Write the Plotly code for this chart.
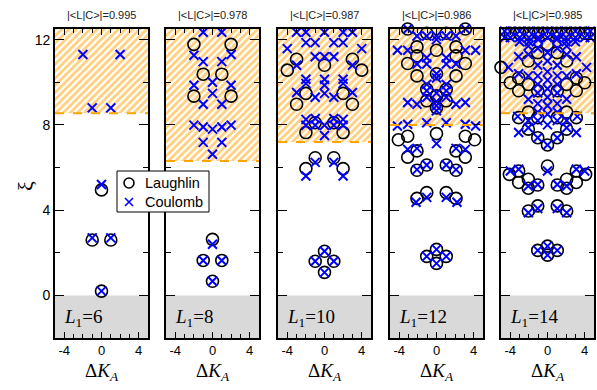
import plotly.graph_objects as go

W, H = 597, 390

# ---------------- data ----------------
L1_values = [6, 8, 10, 12, 14]
overlaps = ["0.995", "0.978", "0.987", "0.986", "0.985"]
thresholds = [8.55, 6.3, 7.2, 8.0, 8.55]

# panel L1=6
laughlin_x_6 = [0, -1, 1, 0]
laughlin_y_6 = [0.2, 2.6, 2.6, 4.95]
coulomb_x_6 = [0, -1, 1, 0, -1, 1, -2, 2]
coulomb_y_6 = [0.2, 2.7, 2.7, 5.2, 8.8, 8.8, 11.3, 11.3]

# panel L1=8
laughlin_x_8 = [0, -1, 1, 0, -2, 2, -1, 1, -2, 2]
laughlin_y_8 = [0.66, 1.64, 1.64, 2.63, 9.35, 9.35, 10.38, 10.38, 11.78, 11.78]
coulomb_x_8 = [0, -1, 1, 0, 0, -1, 1, -2, -1, 0, 1, 2, -1, 1, 0, -2, 2, 0,
               -1, 1, -2, 2, -1, 1]
coulomb_y_8 = [0.66, 1.64, 1.64, 2.4, 6.62, 7.18, 7.18, 7.99, 7.9, 7.8, 7.9, 7.99,
               8.97, 8.97, 9.48, 9.86, 9.86, 10.0, 10.97, 10.97, 11.27, 11.3,
               12.35, 12.35]

# panel L1=10
laughlin_x_10 = [0, -1, 1, 0, -2, -1, 1, 2, -2, -1, 1, 2, -3, -2, 2, 3,
                 -4, -3, 0, 3, 4, 0]
laughlin_y_10 = [1.08, 1.6, 1.6, 2.07, 5.95, 6.46, 6.46, 5.95, 7.64, 8.1, 8.1, 7.64,
                 8.97, 9.48, 9.48, 8.97, 10.57, 11.08, 10.8, 11.08, 10.57, 12.53]
coulomb_x_10 = [0, -1, 1, 0, -2, -1, 1, 2, 0, -2, -1, 0, 1, 2, -2, -1, 1, 2,
                -1, 1, -3, 3, 0, 0, -2, 0, 2, -2, 2, -3, 3, -1, 0, 1, -4, 4,
                -2, -1, 1, 2, -3, -2, 0, 2, 3]
coulomb_y_10 = [1.08, 1.6, 1.6, 2.07, 5.6, 6.24, 6.24, 5.6, 7.5, 7.98, 7.98, 7.98,
                7.98, 7.98, 8.26, 8.3, 8.3, 8.26, 9.3, 9.3, 9.52, 9.52, 9.48, 9.86,
                10.14, 10.14, 10.14, 9.95, 9.95, 10.8, 10.8, 11.2, 11.2, 11.2,
                11.58, 11.58, 11.86, 11.86, 11.86, 11.86, 12.35, 12.35, 12.35,
                12.35, 12.35]

# panel L1=12
laughlin_x_12 = [0, -1.05, 1.05, 0, -2.1, -1.05, 1.05, 2.1, -2.1, -1.05, 1.05, 2.1,
                 -3.1, -2.1, 2.1, 3.1, -4.1, -3.1, 0, 3.1, 4.1,
                 0, -1.05, 1.05, -1.05, 1.05, 0, -2.1, 2.1, 0, -3.1, 3.1,
                 -2.1, 2.1, -2.1, 2.1, 0, -3.1, 3.1, -1.05, 1.05]
laughlin_y_12 = [1.5, 1.83, 1.83, 2.16, 4.55, 4.82, 4.82, 4.55, 5.87, 6.12, 6.12, 5.87,
                 6.49, 6.78, 6.78, 6.49, 7.3, 7.47, 7.59, 7.47, 7.3,
                 8.8, 9.13, 9.13, 9.67, 9.67, 9.36, 10.3, 10.3, 10.4, 10.88, 10.88,
                 11.24, 11.24, 11.66, 11.66, 11.5, 12.5, 12.5, 12.3, 12.3]
coulomb_x_12 = [0, -1.05, 1.05, 0, -2.2, -1.05, 1.05, 2.2, -2.1, -1.05, 1.05, 2.1,
                -3.1, -2.1, 2.1, 3.1, 0, -4.2, -3.1, 3.1, 4.2, -1.05, 1.05,
                -3.1, 3.1, -2.1, 2.1, 0, 0, 0, -1.05, 1.05, -1.05, 1.05, 0,
                -1.05, 1.05, 0, 0, -1.05, 1.05, -2.1, 2.1, -1.05, 1.05,
                -4.2, -3.1, 3.1, 4.2, -2.1, -1.05, 0, 1.05, 2.1, 0, -3.1, 3.1]
coulomb_y_12 = [1.5, 1.83, 1.83, 2.16, 4.37, 4.6, 4.6, 4.37, 5.9, 6.12, 6.12, 5.9,
                6.85, 6.9, 6.9, 6.85, 7.12, 7.95, 8.03, 8.03, 7.95, 8.1, 8.1,
                9.05, 9.05, 8.97, 8.97, 8.66, 8.9, 9.1, 9.3, 9.3, 9.6, 9.6, 9.5,
                9.9, 9.9, 10.2, 10.4, 10.86, 10.86, 10.86, 10.86, 11.15, 11.15,
                11.5, 11.5, 11.5, 11.5, 12.17, 12.17, 12.17, 12.17, 12.17, 12.0,
                12.5, 12.5]

# panel L1=14
laughlin_x_14 = [0, -1.05, 1.05, 0, -2.06, -1.05, 1.05, 2.06, -2.06, -1.05, 1.05, 2.06,
                 -3.1, -2.06, 2.06, 3.1, -4.1, -3.1, 3.1, 4.1, 0,
                 0, -1.05, 1.05, -2.06, 2.06,
                 -3.1, 3.1, -2.06, 2.06, -1.05, 1.05,
                 -1.05, 1.05, -2.06, 2.06, -3.1, 3.1, -3.1, 3.1, -4.0, 4.0, -5.0,
                 -2.06, 2.06, -1.05, 1.05, 0,
                 -4, -3, -2, -1, 0, 1, 2, 3, 4]
laughlin_y_14 = [1.89, 2.11, 2.11, 2.31, 3.96, 4.2, 4.2, 3.96, 5.03, 5.18, 5.18, 5.03,
                 5.3, 5.45, 5.45, 5.3, 5.68, 5.84, 5.84, 5.68, 6.07,
                 7.06, 7.4, 7.4, 7.8, 7.8,
                 8.34, 8.34, 8.6, 8.6, 8.34, 8.34,
                 9.6, 9.6, 9.9, 9.9, 9.6, 9.6, 10.2, 10.2, 9.98, 9.98, 10.7,
                 11.0, 11.0, 11.39, 11.39, 11.78,
                 12.3, 12.3, 12.3, 12.3, 12.3, 12.3, 12.3, 12.3, 12.3]
coulomb_x_14 = [0, -1.05, 1.05, 0, -2.06, -1.05, 1.05, 2.06, -2.06, -1.05, 1.05, 2.06,
                -4.0, -3.1, 3.1, 4.0, 0, 0, -1.05, 1.05, -2.06, 2.06, -3.1, 3.1,
                -3.2, 3.2, -2.06, 2.06, -1.05, 1.05, 0, -1.05, 1.05, 0, 0,
                -1.05, 1.05, -2.06, 2.06, 0, -1.05, 1.05, 0, -1.05, 1.05, 0,
                -1.05, 1.05, -2.06, 2.06, -3.1, 3.1, -4.2, 4.2, 0, -1.05, 1.05,
                0, -2.06, 2.06, -3.1, 3.1, -1.05, 1.05, 0, -2.06, 2.06,
                -4.6, -4, -3, -2, -1, 0, 1, 2, 3, 4, 4.6,
                -4.6, -4, -3, -2, -1, 0, 1, 2, 3, 4, 4.6,
                -3, -2, 2, 3, -1, 1]
coulomb_y_14 = [1.89, 2.11, 2.11, 2.31, 3.88, 4.08, 4.08, 3.88, 5.13, 5.2, 5.2, 5.13,
                5.84, 5.92, 5.92, 5.84, 5.84, 7.06, 7.4, 7.4, 7.87, 7.87, 7.64, 7.64,
                8.4, 8.4, 8.2, 8.2, 8.2, 8.2, 8.0, 8.6, 8.6, 8.5, 8.9,
                9.0, 9.0, 9.2, 9.2, 9.3, 9.5, 9.5, 9.7, 9.9, 9.9, 10.1,
                10.3, 10.3, 10.3, 10.3, 10.4, 10.4, 10.7, 10.7, 10.5, 10.8, 10.8,
                11.0, 11.3, 11.3, 11.2, 11.2, 11.6, 11.6, 11.4, 11.7, 11.7,
                12.4, 12.4, 12.4, 12.4, 12.4, 12.4, 12.4, 12.4, 12.4, 12.4, 12.4,
                12.1, 12.1, 12.1, 12.1, 12.1, 12.1, 12.1, 12.1, 12.1, 12.1, 12.1,
                11.9, 11.9, 11.9, 11.9, 12.0, 12.0]

laughlin_x = [laughlin_x_6, laughlin_x_8, laughlin_x_10, laughlin_x_12, laughlin_x_14]
laughlin_y = [laughlin_y_6, laughlin_y_8, laughlin_y_10, laughlin_y_12, laughlin_y_14]
coulomb_x = [coulomb_x_6, coulomb_x_8, coulomb_x_10, coulomb_x_12, coulomb_x_14]
coulomb_y = [coulomb_y_6, coulomb_y_8, coulomb_y_10, coulomb_y_12, coulomb_y_14]

x_ticks = [-4, 0, 4]
x_ticktext = ["-4", "0", "4"]
y_ticks = [0, 4, 8, 12]
legend_names = ["Laughlin", "Coulomb"]
XR = [-5, 5]
YR = [-2, 12.5]

# ---------------- layout geometry (pixels) ----------------
panel_left = [55, 166, 278, 390, 501]
panel_w = 93
plot_top, plot_bot = 29, 338
leg_box = (117, 171, 209, 212)   # left, top, right, bottom (px)
leg_key_x, leg_text_x = 129, 143
leg_rows_y = [183, 202]

circle_marker = dict(symbol="circle-open", size=12, color="black",
                     line=dict(width=1.6, color="black"))
cross_marker = dict(symbol="x-thin", size=9, color="#0000FF",
                    line=dict(width=2, color="#0000FF"))

fig = go.Figure()
axis_font = dict(family="Liberation Sans, Arial, sans-serif", size=13, color="black")
serif = "Liberation Serif, Times New Roman, serif"

annotations = []
shapes = []
lay = {}
for i in range(5):
    sfx = "" if i == 0 else str(i + 1)
    xa, ya = "x" + sfx, "y" + sfx
    x0 = panel_left[i] / W
    x1 = (panel_left[i] + panel_w) / W
    lay["xaxis" + sfx] = dict(
        domain=[x0, x1], range=XR, anchor=ya,
        showline=True, linewidth=1.6, linecolor="black", mirror="ticks",
        ticks="inside", ticklen=6, tickwidth=1, tickcolor="black",
        tickmode="array", tickvals=x_ticks, ticktext=x_ticktext,
        minor=dict(dtick=1, tick0=0, ticks="inside", ticklen=4, tickcolor="black", tickwidth=1),
        showgrid=False, zeroline=False, tickfont=axis_font, fixedrange=True,
    )
    lay["yaxis" + sfx] = dict(
        domain=[1 - plot_bot / H, 1 - plot_top / H], range=YR, anchor=xa,
        showline=True, linewidth=1.6, linecolor="black", mirror="ticks",
        ticks="inside", ticklen=9, tickwidth=1, tickcolor="black",
        tickmode="array", tickvals=y_ticks,
        minor=dict(dtick=2, tick0=0, ticks="inside", ticklen=5, tickcolor="black", tickwidth=1),
        showticklabels=(i == 0),
        showgrid=False, zeroline=False, tickfont=dict(axis_font, size=14), fixedrange=True,
    )
    # gray region below zero
    shapes.append(dict(type="rect", xref=xa, yref=ya, x0=XR[0], x1=XR[1], y0=YR[0], y1=0,
                       fillcolor="#d9d9d9", line=dict(width=0), layer="below"))
    # hatched region above threshold
    th = thresholds[i]
    fig.add_trace(go.Scatter(
        x=[XR[0], XR[1], XR[1], XR[0], XR[0]], y=[th, th, YR[1], YR[1], th],
        xaxis=xa, yaxis=ya, mode="lines", line=dict(width=0), fill="toself",
        fillcolor="rgba(0,0,0,0)",
        fillpattern=dict(shape="/", fgcolor="#FFA000", bgcolor="white", size=5, solidity=0.55),
        hoverinfo="skip", showlegend=False))
    shapes.append(dict(type="line", xref=xa, yref=ya, x0=XR[0], x1=XR[1], y0=th, y1=th,
                       line=dict(color="#FFA500", width=2, dash="dash"), layer="above"))
    # points
    fig.add_trace(go.Scatter(
        x=laughlin_x[i], y=laughlin_y[i], xaxis=xa, yaxis=ya, mode="markers",
        name=legend_names[0], showlegend=False, cliponaxis=False, marker=circle_marker))
    fig.add_trace(go.Scatter(
        x=coulomb_x[i], y=coulomb_y[i], xaxis=xa, yaxis=ya, mode="markers",
        name=legend_names[1], showlegend=False, cliponaxis=False, marker=cross_marker))
    cx = (panel_left[i] + panel_w / 2) / W
    annotations.append(dict(text=f"|&lt;L|C&gt;|={overlaps[i]}", x=cx, y=1 - 15 / H,
                            xanchor="center", yanchor="middle",
                            xref="paper", yref="paper", showarrow=False,
                            font=dict(family="Liberation Sans, Arial", size=11, color="#222")))
    annotations.append(dict(text="Δ<i>K</i><sub><i>A</i></sub>", x=cx, y=1 - 372 / H,
                            xanchor="center", yanchor="middle",
                            xref="paper", yref="paper", showarrow=False,
                            font=dict(family=serif, size=19, color="black")))
    annotations.append(dict(text=f"<i>L</i><sub>1</sub>={L1_values[i]}",
                            x=(panel_left[i] + 7) / W, y=1 - 318 / H,
                            xanchor="left", yanchor="middle",
                            xref="paper", yref="paper", showarrow=False,
                            font=dict(family=serif, size=19, color="black")))

annotations.append(dict(text="ξ", x=25 / W, y=1 - 186 / H, xref="paper", yref="paper",
                        xanchor="center", yanchor="middle",
                        showarrow=False, textangle=-90,
                        font=dict(family=serif, size=22, color="black")))

# ---------------- custom legend on a pixel-coordinate overlay axis ----------------
lay["xaxis6"] = dict(domain=[0, 1], range=[0, W], visible=False, fixedrange=True, anchor="y6")
lay["yaxis6"] = dict(domain=[0, 1], range=[H, 0], visible=False, fixedrange=True, anchor="x6")
bl, bt, br, bb = leg_box
fig.add_trace(go.Scatter(x=[bl, br, br, bl, bl], y=[bt, bt, bb, bb, bt], xaxis="x6", yaxis="y6",
                         mode="lines", fill="toself", fillcolor="white",
                         line=dict(color="black", width=1), hoverinfo="skip", showlegend=False))
fig.add_trace(go.Scatter(x=[leg_key_x], y=[leg_rows_y[0]], xaxis="x6", yaxis="y6", mode="markers",
                         marker=dict(circle_marker, size=10), hoverinfo="skip", showlegend=False))
fig.add_trace(go.Scatter(x=[leg_key_x], y=[leg_rows_y[1]], xaxis="x6", yaxis="y6", mode="markers",
                         marker=dict(cross_marker, size=8, line=dict(width=1.6, color="#0000FF")),
                         hoverinfo="skip", showlegend=False))
for name, ry in zip(legend_names, leg_rows_y):
    annotations.append(dict(text=name, x=leg_text_x / W, y=1 - ry / H, xref="paper", yref="paper",
                            xanchor="left", yanchor="middle", showarrow=False,
                            font=dict(family="Liberation Sans, Arial", size=14.5, color="black")))

fig.update_layout(
    width=W, height=H, margin=dict(l=0, r=0, t=0, b=0),
    paper_bgcolor="white", plot_bgcolor="rgba(0,0,0,0)",
    annotations=annotations, shapes=shapes, showlegend=False,
    **lay,
)

fig.write_html("out.html", config={"displayModeBar": False},
               post_script="document.body.style.margin='0px';")
